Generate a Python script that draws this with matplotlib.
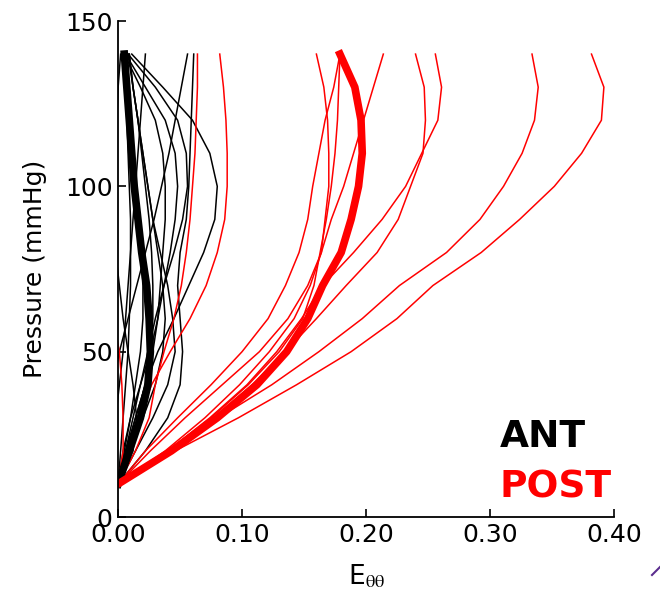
import numpy as np
import matplotlib
matplotlib.use('Agg')
import matplotlib.pyplot as plt
from matplotlib.lines import Line2D

plt.rcParams['mathtext.fontset'] = 'stix'

# pressure levels (mmHg) shared by every curve
pressure = [10, 20, 30, 40, 50, 60, 70, 80, 90, 100, 110, 120, 130, 140]

# ANT: individual strain curves (E_theta_theta)
ant_1 = [0, -.004, -.006, -.004, .001, .008, .015, .022, .029, .035, .041, .046, .051, .056]
ant_2 = [0, .022, .040, .050, .052, .050, .048, .050, .055, .057, .058, .059, .060, .061]
ant_3 = [0, .007, .014, .022, .032, .045, .057, .069, .078, .080, .074, .060, .036, .011]
ant_4 = [0, .006, .012, .018, .024, .030, .037, .045, .052, .056, .055, .048, .030, .008]
ant_5 = [0, .004, .010, .018, .026, .032, .037, .042, .046, .048, .046, .038, .022, .006]
ant_6 = [0, .006, .014, .022, .028, .032, .034, .036, .038, .038, .036, .030, .018, .005]
ant_7 = [0, -.003, -.002, .001, .004, .006, .008, .010, .012, .014, .016, .018, .020, .022]
ant_8 = [0, .012, .015, .012, .008, .004, .001, -.002, -.003, -.003, -.002, -.001, .000, .002]
ant_9 = [0, .010, .020, .030, .036, .038, .036, .032, .028, .024, .020, .016, .012, .008]
ant_10 = [0, .008, .016, .022, .026, .028, .028, .027, .025, .022, .019, .016, .012, .009]
ant_11 = [0, .005, .010, .014, .018, .020, .020, .018, .016, .014, .012, .010, .008, .006]
ant_12 = [0, .014, .028, .040, .046, .044, .040, .034, .028, .024, .020, .016, .012, .009]
ant_13 = [0, .002, .004, .006, .008, .009, .010, .010, .010, .009, .008, .007, .006, .005]
ant_mean = [0, .009, .018, .024, .026, .025, .023, .019, .016, .013, .011, .009, .007, .005]

# POST: individual strain curves
post_1 = [0, .046, .097, .144, .188, .225, .254, .293, .324, .352, .374, .390, .392, .382]
post_2 = [0, .041, .081, .124, .162, .197, .227, .265, .292, .311, .326, .336, .339, .334]
post_3 = [0, .042, .078, .108, .135, .160, .184, .209, .226, .236, .246, .248, .247, .240]
post_4 = [0, .040, .074, .104, .128, .148, .165, .190, .213, .232, .245, .258, .261, .256]
post_5 = [0, .038, .070, .098, .122, .142, .155, .164, .167, .170, .170, .169, .166, .160]
post_6 = [0, .022, .048, .075, .100, .121, .135, .146, .153, .157, .162, .167, .174, .179]
post_7 = [0, .026, .054, .084, .114, .137, .153, .164, .172, .182, .190, .198, .206, .214]
post_8 = [0, .040, .075, .105, .130, .149, .158, .163, .168, .172, .175, .177, .178, .179]
post_9 = [0, .014, .025, .030, .037, .045, .051, .055, .058, .060, .062, .063, .064, .064]
post_10 = [0, .008, .017, .027, .042, .058, .071, .080, .086, .088, .088, .087, .085, .082]
post_11 = [0, .004, .004, .003, .001, -.004, -.010, -.015, -.020, -.025, -.030, -.035, -.040, -.045]
post_mean = [0, .043, .080, .112, .136, .153, .165, .180, .188, .194, .197, .196, .191, .179]

ant_curves = [ant_1, ant_2, ant_3, ant_4, ant_5, ant_6, ant_7, ant_8, ant_9,
              ant_10, ant_11, ant_12, ant_13]
post_curves = [post_1, post_2, post_3, post_4, post_5, post_6, post_7, post_8,
               post_9, post_10, post_11]

x_ticks = [0.0, 0.1, 0.2, 0.3, 0.4]
y_ticks = [0, 50, 100, 150]

fig = plt.figure(figsize=(6.6, 5.94), dpi=100)
ax = fig.add_axes([0.179, 0.1296, 0.751, 0.835])

for c in ant_curves:
    ax.plot(c, pressure, color='black', lw=1.1)
for c in post_curves:
    ax.plot(c, pressure, color='red', lw=1.1)
ax.plot(ant_mean, pressure, color='black', lw=5.5)
ax.plot(post_mean, pressure, color='red', lw=5.5)

ax.set_xlim(0, 0.4)
ax.set_ylim(0, 150)
ax.set_xticks(x_ticks)
ax.set_xticklabels(['%.2f' % v for v in x_ticks])
ax.set_yticks(y_ticks)
ax.spines['top'].set_visible(False)
ax.spines['right'].set_visible(False)
ax.spines['left'].set_linewidth(1.3)
ax.spines['bottom'].set_linewidth(1.3)
ax.tick_params(direction='in', length=6, width=1.2, labelsize=18, pad=4,
               top=False, right=False)

ax.set_xlabel(r'E$_{\mathrm{\theta\theta}}$', fontsize=19, labelpad=12)
ax.set_ylabel('Pressure (mmHg)', fontsize=18, labelpad=13)

ax.text(0.77, 0.141, 'ANT', transform=ax.transAxes, color='black',
        fontsize=27, fontweight='bold', va='baseline', ha='left')
ax.text(0.77, 0.040, 'POST', transform=ax.transAxes, color='red',
        fontsize=27, fontweight='bold', va='baseline', ha='left')

# small stray stroke at the lower-right corner of the original picture
fig.add_artist(Line2D([652 / 660, 1.0], [1 - 575 / 594, 1 - 567 / 594],
                      transform=fig.transFigure, color='#5b2d8e', lw=1.5))

plt.savefig('out.png', dpi=100)
